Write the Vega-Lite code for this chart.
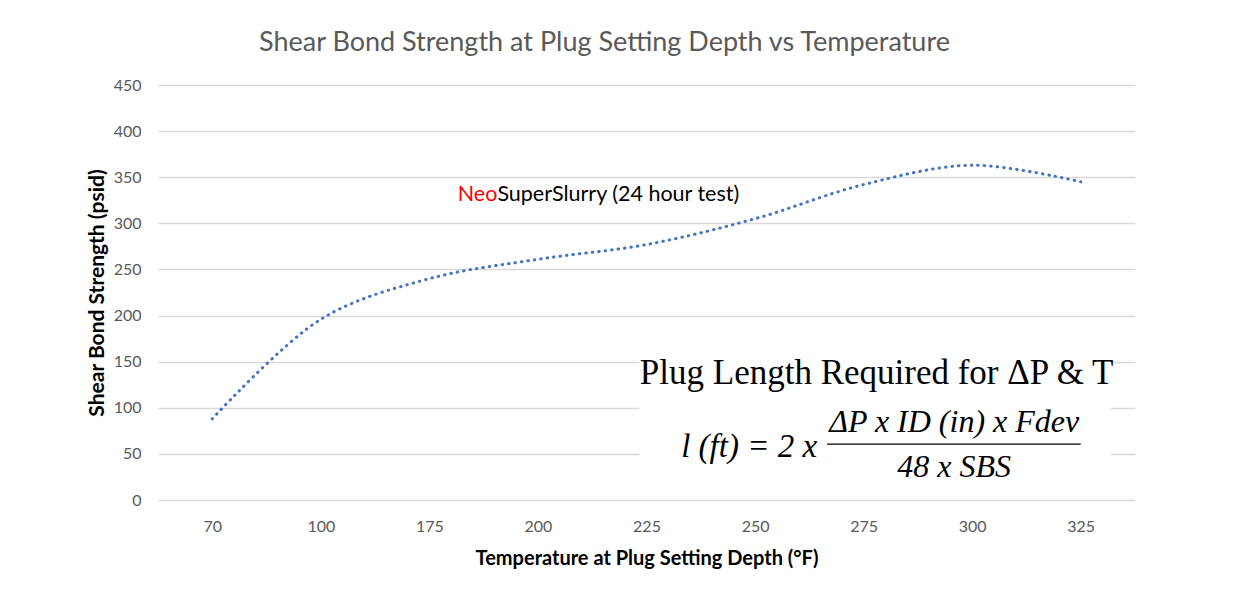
{
  "$schema": "https://vega.github.io/schema/vega-lite/v6.json",
  "width": 977,
  "height": 415,
  "autosize": {"type": "none"},
  "padding": {"left": 158, "top": 85, "right": 108, "bottom": 104},
  "background": "white",
  "title": {
    "text": "Shear Bond Strength at Plug Setting Depth vs Temperature",
    "font": "Lato",
    "fontSize": 27,
    "fontWeight": "normal",
    "color": "#595959",
    "anchor": "middle",
    "dx": -42,
    "offset": 20
  },
  "config": {
    "view": {"stroke": null},
    "axis": {
      "labelFont": "Lato",
      "titleFont": "Lato",
      "labelColor": "#595959",
      "labelFontSize": 16,
      "titleColor": "#000000",
      "titleFontWeight": "bold",
      "domain": false,
      "ticks": false
    }
  },
  "layer": [
    {
      "data": {"values": [
        {"T": "70", "SBS": 88},
        {"T": "100", "SBS": 196},
        {"T": "175", "SBS": 240},
        {"T": "200", "SBS": 261},
        {"T": "225", "SBS": 277},
        {"T": "250", "SBS": 305},
        {"T": "275", "SBS": 342},
        {"T": "300", "SBS": 363},
        {"T": "325", "SBS": 345}
      ]},
      "mark": {"type": "line", "interpolate": "catmull-rom", "color": "#4472C4", "strokeWidth": 3, "strokeCap": "round", "strokeDash": [0.5, 6]},
      "encoding": {
        "x": {
          "field": "T", "type": "ordinal", "sort": null,
          "scale": {"type": "point", "padding": 0.5},
          "axis": {"title": "Temperature at Plug Setting Depth (°F)", "titleFontSize": 20, "labelAngle": 0, "labelPadding": 18, "titlePadding": 14, "grid": false}
        },
        "y": {
          "field": "SBS", "type": "quantitative",
          "scale": {"domain": [0, 450], "nice": false},
          "axis": {"title": "Shear Bond Strength (psid)", "titleFontSize": 21, "values": [0, 50, 100, 150, 200, 250, 300, 350, 400, 450], "grid": true, "gridColor": "#d9d9d9", "gridWidth": 1.4, "labelPadding": 17, "titlePadding": 6}
        }
      }
    },
    {
      "data": {"values": [{"T": "225", "T2": "325", "lo": 17, "hi": 170}]},
      "mark": {"type": "rect", "color": "white", "xOffset": -7, "x2Offset": 30},
      "encoding": {
        "x": {"field": "T", "type": "ordinal", "sort": null},
        "x2": {"field": "T2"},
        "y": {"field": "lo", "type": "quantitative"},
        "y2": {"field": "hi"}
      }
    },
    {
      "data": {"values": [{"T": "250", "T2": "325", "v": 60.5}]},
      "mark": {"type": "rule", "color": "black", "strokeWidth": 1.3, "xOffset": 72, "x2Offset": 0},
      "encoding": {
        "x": {"field": "T", "type": "ordinal", "sort": null},
        "x2": {"field": "T2"},
        "y": {"field": "v", "type": "quantitative"}
      }
    },
    {
      "data": {"values": [{"T": "175", "v": 330.8, "label": "Neo"}]},
      "mark": {"type": "text", "font": "Lato", "fontSize": 21.5, "color": "#FF0000", "align": "right", "baseline": "middle", "dx": 68},
      "encoding": {
        "x": {"field": "T", "type": "ordinal", "sort": null},
        "y": {"field": "v", "type": "quantitative"},
        "text": {"field": "label"}
      }
    },
    {
      "data": {"values": [{"T": "175", "v": 330.8, "label": "SuperSlurry (24 hour test)"}]},
      "mark": {"type": "text", "font": "Lato", "fontSize": 21.5, "color": "#000000", "align": "left", "baseline": "middle", "dx": 68},
      "encoding": {
        "x": {"field": "T", "type": "ordinal", "sort": null},
        "y": {"field": "v", "type": "quantitative"},
        "text": {"field": "label"}
      }
    },
    {
      "data": {"values": [{"T": "275", "v": 137.7, "label": "Plug Length Required for ΔP & T"}]},
      "mark": {"type": "text", "font": "Liberation Serif", "fontSize": 35, "color": "#000000", "align": "center", "baseline": "middle", "dx": 13},
      "encoding": {
        "x": {"field": "T", "type": "ordinal", "sort": null},
        "y": {"field": "v", "type": "quantitative"},
        "text": {"field": "label"}
      }
    },
    {
      "data": {"values": [{"T": "250", "v": 57.5, "label": "l (ft) = 2 x"}]},
      "mark": {"type": "text", "font": "Liberation Serif", "fontStyle": "italic", "fontSize": 33, "color": "#000000", "align": "right", "baseline": "middle", "dx": 62},
      "encoding": {
        "x": {"field": "T", "type": "ordinal", "sort": null},
        "y": {"field": "v", "type": "quantitative"},
        "text": {"field": "label"}
      }
    },
    {
      "data": {"values": [{"T": "300", "v": 84.6, "label": "ΔP x ID (in) x Fdev"}, {"T": "300", "v": 36, "label": "48 x SBS"}]},
      "mark": {"type": "text", "font": "Liberation Serif", "fontStyle": "italic", "fontSize": 32, "color": "#000000", "align": "center", "baseline": "middle", "dx": -18},
      "encoding": {
        "x": {"field": "T", "type": "ordinal", "sort": null},
        "y": {"field": "v", "type": "quantitative"},
        "text": {"field": "label"}
      }
    }
  ]
}
